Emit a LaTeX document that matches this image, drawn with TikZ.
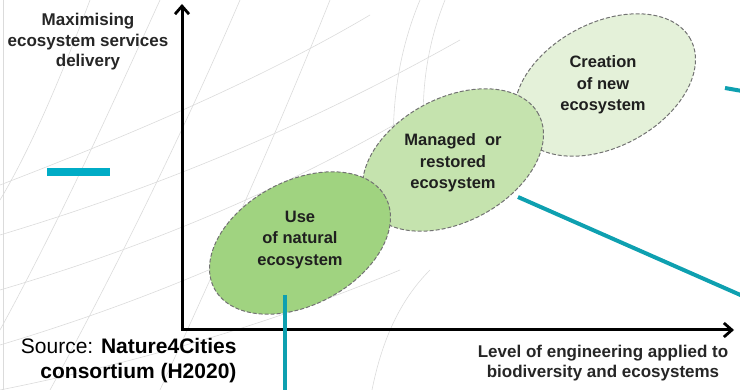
\documentclass[tikz,border=0pt]{standalone}
\usepackage{fontspec}
\setmainfont{Liberation Sans}
\usetikzlibrary{shapes.geometric,arrows.meta}
\definecolor{natgreen}{RGB}{160,211,128}
\definecolor{mangreen}{RGB}{197,227,174}
\definecolor{newgreen}{RGB}{228,241,217}
\definecolor{leadteal}{RGB}{14,160,176}
\definecolor{barteal}{RGB}{0,172,198}

\begin{document}
\begin{tikzpicture}
            [
            x=1pt,y=-1pt,
            blob/.style={ellipse,draw=black!55,line width=1pt,
                dash pattern=on 4pt off 2pt,rotate=28,inner sep=0pt,
                minimum width=194pt,minimum height=124pt},
            blobtext/.style={font={\fontsize{16.5}{21.5}\selectfont\bfseries},
                align=center,text=black!88},
            axislabel/.style={font={\fontsize{17}{20.5}\selectfont\bfseries},
                align=center,text=black!85},
            axis/.style={line width=3pt,
                {Straight Barb[length=8pt,width=14pt,line width=2.8pt]}-{Straight Barb[length=8pt,width=14pt,line width=2.8pt]}},
            leader/.style={draw=leadteal,line width=4pt},
            bgline/.style={black!14,line width=0.6pt},
            ]
            \useasboundingbox (0,0) rectangle (740,390);

            % Background globe
            \draw[bgline] (3,0) -- (3,390);
            \draw[bgline] (0,185) .. controls (130,135) and (260,80) .. (370,15);
            \draw[bgline] (0,235) .. controls (150,190) and (300,130) .. (460,40);
            \draw[bgline] (0,290) .. controls (170,240) and (300,180) .. (420,110);
            \draw[bgline] (0,345) .. controls (150,300) and (260,250) .. (380,190);
            \draw[bgline] (0,390) .. controls (150,360) and (280,320) .. (400,270);
            \draw[bgline] (90,0) .. controls (60,80) and (30,150) .. (0,200);
            \draw[bgline] (160,0) .. controls (110,110) and (60,220) .. (0,330);
            \draw[bgline] (240,0) .. controls (180,140) and (110,280) .. (50,390);
            \draw[bgline] (330,0) .. controls (270,150) and (210,280) .. (160,390);
            \draw[bgline] (420,0) .. controls (395,60) and (390,120) .. (395,180);
            \draw[bgline] (445,0) .. controls (425,50) and (420,100) .. (425,150);
            \draw[bgline] (372,390) .. controls (382,340) and (400,300) .. (430,270);

            % Ecosystems
            \node[blob,fill=newgreen] (newblob) at (605,85) {};
            \node[blob,fill=mangreen] (manblob) at (453,160) {};
            \node[blob,fill=natgreen] (natblob) at (300,243) {};
            \node[blobtext] (newtext) at (603,85) {Creation\\of new\\ecosystem};
            \node[blobtext] (mantext) at (453,163) {Managed~ or\\restored\\ecosystem};
            \node[blobtext] (nattext) at (300,240) {Use\\of natural\\ecosystem};

            % Axis
            \coordinate (origin) at (182,330);
            \coordinate (ytip) at (182,4);
            \coordinate (xtip) at (734,330);
            \draw[axis] (ytip) -- (origin) -- (xtip);
            \node[axislabel] (ylabel) at (88,42)
                {Maximising\\ecosystem services\\delivery};
            \node[axislabel] (xlabel) at (603,363)
                {Level of engineering applied to\\biodiversity and ecosystems};

            % Source
            \node[anchor=east,align=right,font={\fontsize{21}{25}\selectfont}]
                (source) at (240,361)
                {Source: \textbf{Nature4Cities}\\\textbf{consortium (H2020)}};

            % Leaders
            \fill[barteal] (47,168) rectangle (110,176);
            \coordinate (natfoot) at (285,295);
            \coordinate (natend) at (285,392);
            \coordinate (manfoot) at (518,197);
            \coordinate (manend) at (745,297);
            \coordinate (newfoot) at (725,88);
            \coordinate (newend) at (742,91);
            \draw[leader] (natfoot) -- (natend);
            \draw[leader] (manfoot) -- (manend);
            \draw[leader] (newfoot) -- (newend);

        \end{tikzpicture}
\end{document}
